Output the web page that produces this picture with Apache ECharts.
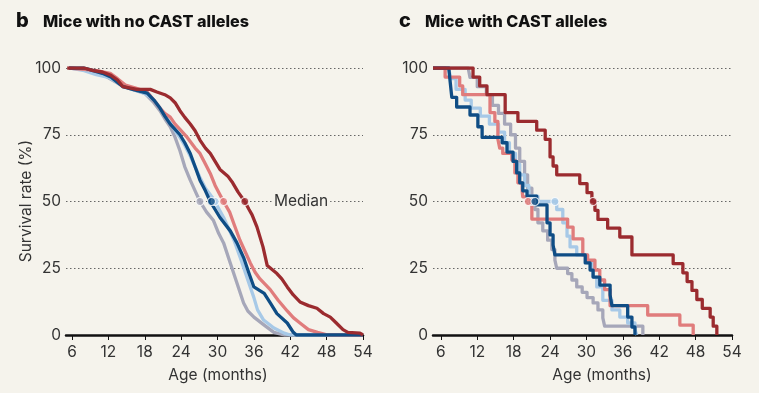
<!DOCTYPE html>
<html>
<head>
<meta charset="utf-8">
<script src="https://cdn.jsdelivr.net/npm/echarts@6/dist/echarts.min.js"></script>
<style>
html,body{margin:0;padding:0;background:#f5f3ec;}
#chart{width:759px;height:393px;}
</style>
</head>
<body>
<div id="chart"></div>
<script>
// ---- data ----
var xTicks = [6, 12, 18, 24, 30, 36, 42, 48, 54];
var yTicks = [0, 25, 50, 75, 100];
var seriesNames = ['Gray', 'Light blue', 'Salmon', 'Dark blue', 'Dark red'];

// Panel b: Mice with no CAST alleles  [age (months), survival (%)]
var bGray = [[5.5,100],[8,99.5],[10,98.5],[11.5,97],[13,95],[14.5,93],[16,92],[18,90.5],[19.5,87],[20.5,84],[21.3,81],[22.2,78],[23,74],[23.8,69],[24.6,63],[25.5,58],[26.3,54],[27.1,50],[28.2,46],[29.3,43],[30.2,38],[31,34.5],[32.1,27],[33.2,19.5],[34.3,12],[35,9],[36,6.7],[37.7,3.7],[39.3,1],[41,0],[54,0]];
var bLightBlue = [[5.5,100],[8,99],[10,97.5],[12,96.5],[14,94],[16,92],[18,90.5],[19.5,88],[20.5,85],[21.3,82],[22.2,79.5],[23,76.5],[23.8,74],[24.6,71],[25.5,67],[26.3,63],[27.1,59],[28,55],[29.3,51],[31,44],[32.7,35.6],[33.9,28],[35,20.6],[36,14],[36.6,9.4],[37.6,5.6],[39.3,2.6],[41,0.7],[42,0],[54,0]];
var bSalmon = [[5.5,100],[8,99.5],[10,99],[12.3,98],[13.5,96],[14.8,93.6],[16.5,92.5],[18.4,91],[19.5,88],[20.5,85],[21.3,83],[22.2,81.6],[23,79],[23.8,77],[25,74],[26.3,70],[27.1,68],[28,64],[28.8,60.5],[29.6,56],[30.4,52.5],[31,50],[32,46],[32.8,41],[33.7,35.5],[34.6,31],[35.4,27],[36.2,23.5],[37,21],[38.7,17],[40,13],[41.5,9],[42.5,6.5],[43.6,4.5],[45,2],[46.5,1],[48.2,0],[54,0]];
var bDarkBlue = [[5.5,100],[8,100],[9.5,99],[11,98],[12.5,96.5],[14.4,93],[16,92],[18.4,90.6],[19.5,88],[20.5,85],[21.3,82],[22.2,79],[23,77],[23.8,75],[24.6,72],[25.5,68],[26.3,63],[27.1,58],[28,54],[28.8,50],[30.4,44],[32.1,39],[33.2,34.5],[34.3,29],[35.2,23],[36,18],[37.7,15.6],[38.7,12],[39.8,8],[41.5,4.5],[42.5,1],[43,0],[54,0]];
var bDarkRed = [[5.2,100],[8,100],[9.5,99],[11,98.5],[12.3,97.4],[13.5,95.5],[14.4,93],[16.7,92],[18.9,92],[20,91],[21.3,90],[22.2,88.8],[23,87],[23.8,84],[24.6,81.5],[25.5,79],[26.3,76.5],[27.1,73],[28,70],[28.8,68],[29.6,65],[30.4,62],[31.7,59.5],[32.5,57],[33.4,53.5],[34.5,50],[35.2,47],[35.7,45],[36.5,40.5],[37.5,33],[38.2,26],[39.8,23],[40.6,21],[41.5,18],[42.5,15],[43.6,12.4],[45,11],[46.4,10],[47.5,8],[48.6,6.7],[49.6,4.5],[50.7,2],[51.5,1],[53.5,0.7],[54,0]];
var bMedians = [27.1, 29.6, 31, 29, 34.5];

// Panel c: Mice with CAST alleles
var cGray = [[4.7,100],[10.5,100],[10.8,96.5],[12,93],[13.5,90],[14.5,86],[15.5,83],[16.5,79],[17.5,75],[18.3,70],[19,65],[19.8,60],[20.3,55],[21,50],[21.5,47],[22,42],[22.8,39],[23.6,35.5],[24.3,32],[24.8,28],[25.1,25],[26.9,23],[27.6,20.6],[28.4,18],[29.3,16],[30.1,14],[31.1,12],[31.9,9.4],[32.7,6.4],[33,3.3],[39.3,0]];
var cLightBlue = [[4.7,100],[7.3,100],[7.6,96],[8.5,92],[10,88],[11,85],[12.5,82],[14,79],[15.5,76],[16.5,72],[17.3,68],[18.3,64],[19,60],[19.8,56],[20.5,52],[22,50],[25.1,47],[26.1,42],[26.8,37],[27.3,33],[28.4,30],[30.1,27],[31.1,21.7],[31.7,18],[32.7,13],[34.2,9.4],[35.5,6.7],[36.8,4.5],[38,2],[38.3,0]];
var cSalmon = [[4.7,100],[6.7,96.6],[9.1,93.3],[9.6,90],[14.1,83.3],[14.9,80],[15.4,73.3],[15.7,70],[16.2,68],[17.7,65.5],[18.2,60.7],[18.7,57],[19.4,54],[19.5,51.7],[20.4,49.4],[21,43.4],[26.9,40.4],[27.8,36],[29.4,30],[30.2,28],[31.4,24.3],[32.2,20.6],[33,17],[33.9,11],[40.1,7.5],[45.4,3.7],[47.6,0]];
var cDarkBlue = [[4.7,100],[7.3,100],[7.5,95.5],[7.8,89],[8.6,85.4],[10.8,82.4],[12.1,78],[12.8,74],[16.1,72],[16.9,68.5],[17.9,65],[18.5,60.7],[19,57],[19.5,54],[20.2,52],[21.8,48.7],[23.5,42],[24,37.5],[24.5,33.7],[24.8,30],[29.8,27],[30.6,24.3],[31.1,21.7],[32.2,18.7],[33.9,15],[34.2,11],[36.8,6.7],[37.5,3],[38,0]];
var cDarkRed = [[4.7,100],[11.3,96.6],[12.4,93.3],[13.6,90],[16.6,83.3],[18.7,80],[21.8,76.7],[23.2,73.3],[24,66.7],[24.5,63.3],[25.1,60],[28.9,56.7],[30.1,53.3],[30.9,50],[31.4,46.7],[31.9,43.3],[33.5,40],[35.5,36.7],[37.5,30],[44.3,26.7],[45.9,23.3],[46.6,20],[47.4,16.7],[48.2,13.3],[49.1,10],[50.4,6.7],[50.9,3.3],[51.5,0]];
var cMedians = [21, 24.8, 20.4, 21.5, 31.1];

var colors = ['#a6a7b9', '#a7c9e7', '#e07c7c', '#0f4d85', '#9b2b2f'];
var BG = '#f5f3ec';
var FONT = 'Inter, "Noto Sans", sans-serif';
var FS = 15.5;

var bData = [bGray, bLightBlue, bSalmon, bDarkBlue, bDarkRed];
var cData = [cGray, cLightBlue, cSalmon, cDarkBlue, cDarkRed];

function xAxisCfg(gi, min) {
  return {
    gridIndex: gi, type: 'value', min: min, max: 54,
    axisLine: {show: true, onZero: false, lineStyle: {color: '#111', width: 2.5}},
    axisTick: {show: true, customValues: xTicks, length: 5, lineStyle: {color: '#111', width: 1}},
    axisLabel: {customValues: xTicks, color: '#333', fontSize: FS, fontFamily: FONT, margin: 9},
    splitLine: {show: false}
  };
}
function yAxisCfg(gi) {
  return {
    gridIndex: gi, type: 'value', min: 0, max: 100, interval: 25,
    axisLine: {show: false}, axisTick: {show: false},
    axisLabel: {color: '#333', fontSize: FS, fontFamily: FONT, margin: 5},
    splitLine: {show: true, lineStyle: {color: '#666', width: 1, type: [1.5, 2.5]}}
  };
}

var series = [];
function addPanel(data, medians, gi, stepped) {
  data.forEach(function (d, i) {
    series.push({
      type: 'line', name: seriesNames[i], xAxisIndex: gi, yAxisIndex: gi,
      data: d, step: stepped ? 'end' : false, symbol: 'none', z: 2 + i,
      lineStyle: {color: colors[i], width: 3.3, join: 'round'},
      animation: false
    });
  });
  medians.forEach(function (m, i) {
    series.push({
      type: 'scatter', xAxisIndex: gi, yAxisIndex: gi, z: 10 + i,
      data: [[m, 50]], symbol: 'circle', symbolSize: 8,
      itemStyle: {color: colors[i], borderColor: '#fff', borderWidth: 1.2},
      animation: false
    });
  });
}
addPanel(bData, bMedians, 0, false);
addPanel(cData, cMedians, 1, true);

var chart = echarts.init(document.getElementById('chart'), null, {renderer: 'canvas'});
chart.setOption({
  backgroundColor: BG,
  grid: [
    {left: 66, width: 297, top: 68, height: 267},
    {left: 433, width: 299, top: 68, height: 267}
  ],
  xAxis: [xAxisCfg(0, 5), xAxisCfg(1, 4.7)],
  yAxis: [yAxisCfg(0), yAxisCfg(1)],
  series: series,
  graphic: [
    {type: 'text', left: 16, top: 11, style: {text: 'b', font: '800 20px ' + FONT, fill: '#111'}},
    {type: 'text', left: 43, top: 14, style: {text: 'Mice with no CAST alleles', font: '800 16.2px ' + FONT, fill: '#111'}},
    {type: 'text', left: 399, top: 11, style: {text: 'c', font: '800 20px ' + FONT, fill: '#111'}},
    {type: 'text', left: 425, top: 14, style: {text: 'Mice with CAST alleles', font: '800 16.2px ' + FONT, fill: '#111'}},
    {type: 'text', x: 26, y: 201, rotation: Math.PI / 2, style: {text: 'Survival rate (%)', font: FS + 'px ' + FONT, fill: '#333', align: 'center', verticalAlign: 'middle'}},
    {type: 'text', x: 218, y: 375, style: {text: 'Age (months)', font: FS + 'px ' + FONT, fill: '#333', align: 'center', verticalAlign: 'middle'}},
    {type: 'text', x: 602, y: 375, style: {text: 'Age (months)', font: FS + 'px ' + FONT, fill: '#333', align: 'center', verticalAlign: 'middle'}},
    {type: 'text', x: 272, y: 201, z: 100, style: {text: 'Median', font: FS + 'px ' + FONT, fill: '#333', align: 'left', verticalAlign: 'middle', backgroundColor: BG, padding: [0, 2, 0, 2]}}
  ]
});
</script>
</body>
</html>
